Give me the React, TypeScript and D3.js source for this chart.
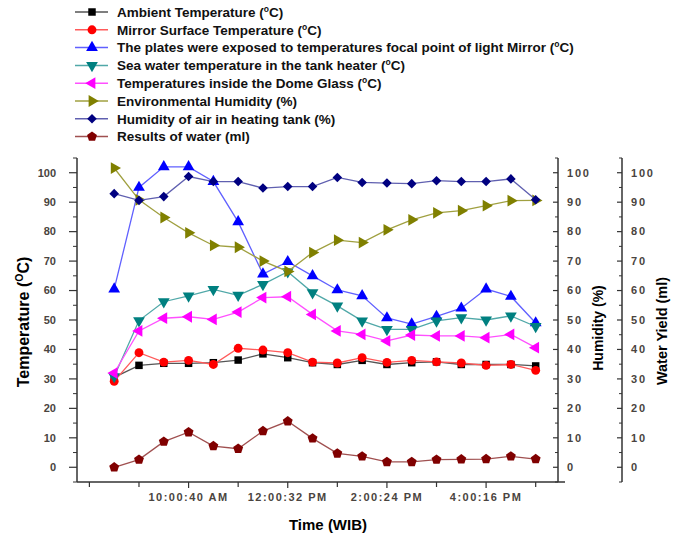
import React from 'react';
import * as d3 from 'd3';

// sample index 0..17 (one reading every ~30 min)
const sampleIdx = d3.range(18);
const majorTickAt = [3, 7, 11, 15];
const majorTickLabels = ['10:00:40 AM', '12:00:32 PM', '2:00:24 PM', '4:00:16 PM'];
const minorTickAt = [-1, 1, 5, 9, 13, 17];

const ambient = [30.5, 34.6, 35.3, 35.3, 35.5, 36.4, 38.5, 37.2, 35.5, 34.9, 36.3, 34.9, 35.5, 35.8, 34.9, 34.9, 34.9, 34.4];
const mirror = [29.2, 38.9, 35.7, 36.3, 34.9, 40.4, 39.8, 38.9, 35.7, 35.4, 37.2, 35.6, 36.3, 35.8, 35.4, 34.6, 34.9, 32.9];
const plates = [60.5, 95, 102, 102, 97, 83.3, 65.6, 69.8, 65, 60.2, 58.2, 50.7, 48.6, 51.2, 54, 60.5, 58, 49];
const seaWater = [30.8, 49.8, 56.2, 58.2, 60.4, 58.4, 62.1, 66.4, 59.3, 54.8, 49.7, 46.8, 46.8, 49.7, 50.8, 50, 51.4, 47.8];
const dome = [32, 46.3, 50.6, 51.1, 50.2, 52.7, 57.6, 57.9, 51.9, 46.3, 45.1, 42.9, 44.9, 44.6, 44.6, 44, 45.1, 40.6];
const envHumidity = [101.6, 90.8, 84.8, 79.6, 75.3, 74.7, 70, 66.5, 72.9, 77.1, 76.3, 80.6, 84, 86.4, 87.1, 88.8, 90.5, 90.6];
const tankHumidity = [92.9, 90.6, 91.9, 98.7, 97, 97, 94.8, 95.3, 95.3, 98.4, 96.7, 96.5, 96.3, 97.3, 97, 97, 97.9, 90.8];
const waterYield = [0, 2.6, 8.7, 11.9, 7.2, 6.3, 12.3, 15.6, 9.8, 4.7, 3.7, 1.8, 1.8, 2.6, 2.7, 2.8, 3.7, 2.8];

const yTicks = d3.range(0, 101, 10);
const yMinor = d3.range(-5, 106, 5).filter((v) => v % 10 !== 0);

type Shape = 'square' | 'circle' | 'up' | 'down' | 'left' | 'right' | 'diamond' | 'pentagon';

const series: { name: string; unit: string; values: number[]; color: string; line: string; shape: Shape; axis: 't' | 'h' | 'w' }[] = [
  { name: 'Ambient Temperature (', unit: 'C)', values: ambient, color: '#000000', line: '#555555', shape: 'square', axis: 't' },
  { name: 'Mirror Surface Temperature (', unit: 'C)', values: mirror, color: '#ff0000', line: '#ff5a5a', shape: 'circle', axis: 't' },
  { name: 'The plates were exposed to temperatures focal point of light Mirror (', unit: 'C)', values: plates, color: '#0000ff', line: '#6060ff', shape: 'up', axis: 't' },
  { name: 'Sea water temperature in the tank heater (', unit: 'C)', values: seaWater, color: '#008080', line: '#50a8a8', shape: 'down', axis: 't' },
  { name: 'Temperatures inside the Dome Glass (', unit: 'C)', values: dome, color: '#ff00ff', line: '#ff50ff', shape: 'left', axis: 't' },
  { name: 'Environmental Humidity (%)', unit: '', values: envHumidity, color: '#808000', line: '#a0a040', shape: 'right', axis: 'h' },
  { name: 'Humidity of air in heating tank (%)', unit: '', values: tankHumidity, color: '#000080', line: '#6060b0', shape: 'diamond', axis: 'h' },
  { name: 'Results of water (ml)', unit: '', values: waterYield, color: '#800000', line: '#a05050', shape: 'pentagon', axis: 'w' },
];

const FONT = '"Liberation Sans", Arial, sans-serif';

const markerPath = (shape: Shape) => {
  const tri = d3.symbol(d3.symbolTriangle, 60)() as string;
  switch (shape) {
    case 'square':
      return { d: d3.symbol(d3.symbolSquare, 56)() as string, rot: 0 };
    case 'circle':
      return { d: d3.symbol(d3.symbolCircle, 62)() as string, rot: 0 };
    case 'up':
      return { d: tri, rot: 0 };
    case 'down':
      return { d: tri, rot: 180 };
    case 'left':
      return { d: tri, rot: -90 };
    case 'right':
      return { d: tri, rot: 90 };
    case 'diamond':
      return { d: d3.symbol(d3.symbolSquare, 46)() as string, rot: 45 };
    default: {
      const r = 5.2;
      const pts = d3.range(5).map((k) => {
        const a = ((-90 + k * 72) * Math.PI) / 180;
        return [r * Math.cos(a), r * Math.sin(a)] as [number, number];
      });
      return { d: d3.line()(pts) + 'Z', rot: 0 };
    }
  }
};

const App = () => {
  const width = 683;
  const height = 535;
  const left = 77;
  const right = 558;
  const right2 = 622;
  const top = 158;
  const bottom = 482;

  const x = d3.scaleLinear().domain([-1.5, 17.9]).range([left, right]);
  const yT = d3.scaleLinear().domain([-5, 105]).range([bottom, top]);
  const yH = d3.scaleLinear().domain([-5, 105]).range([bottom, top]);
  const yW = d3.scaleLinear().domain([-5, 105]).range([bottom, top]);
  const scaleFor = (a: 't' | 'h' | 'w') => (a === 't' ? yT : a === 'h' ? yH : yW);

  const legendY = (i: number) => 12 + i * 17.8;

  const rightAxis = (ax: number, scale: d3.ScaleLinear<number, number>) => (
    <g>
      <line x1={ax} x2={ax} y1={top} y2={bottom} stroke="#333" strokeWidth={1.5} />
      {yTicks.map((t) => (
        <g key={t}>
          <line x1={ax - 5} x2={ax} y1={scale(t)} y2={scale(t)} stroke="#333" strokeWidth={1.2} />
          <text x={ax + 9} y={scale(t)} dy="0.35em" fontSize={11} fontWeight="bold" letterSpacing={1.8} fill="#4a4440">
            {t}
          </text>
        </g>
      ))}
      {yMinor.map((t) => (
        <line key={t} x1={ax - 3} x2={ax} y1={scale(t)} y2={scale(t)} stroke="#333" strokeWidth={1} />
      ))}
    </g>
  );

  return (
    <svg width={width} height={height} style={{ position: 'absolute', left: 0, top: 0, background: '#fff' }} fontFamily={FONT}>
      <rect width={width} height={height} fill="#fff" />

      {/* legend */}
      {series.map((s, i) => {
        const m = markerPath(s.shape);
        const ly = legendY(i);
        return (
          <g key={s.name}>
            <line x1={75} x2={108} y1={ly} y2={ly} stroke={s.line} strokeWidth={1.5} />
            <path d={m.d} transform={`translate(92,${ly}) rotate(${m.rot})`} fill={s.color} />
            <text x={117} y={ly} dy="0.36em" fontSize={13.5} fontWeight="bold" fill="#111">
              {s.name}
              {s.unit && (
                <>
                  <tspan fontSize={8.5} dy={-5}>o</tspan>
                  <tspan dy={5}>{s.unit}</tspan>
                </>
              )}
            </text>
          </g>
        );
      })}

      {/* left axis */}
      <line x1={left} x2={left} y1={top} y2={bottom} stroke="#333" strokeWidth={1.5} />
      {yTicks.map((t) => (
        <g key={t}>
          <line x1={left - 8} x2={left} y1={yT(t)} y2={yT(t)} stroke="#333" strokeWidth={1.2} />
          <text x={56} y={yT(t)} dy="0.35em" textAnchor="end" fontSize={11} fontWeight="bold" fill="#4a4440">
            {t}
          </text>
        </g>
      ))}
      {yMinor.map((t) => (
        <line key={t} x1={left - 4} x2={left} y1={yT(t)} y2={yT(t)} stroke="#333" strokeWidth={1} />
      ))}
      <text transform={`translate(23,322) rotate(-90)`} textAnchor="middle" dy="0.35em" fontSize={16} fontWeight="bold">
        Temperature (<tspan fontSize={10.5} dy={-6}>O</tspan>
        <tspan dy={6}>C)</tspan>
      </text>

      {/* right axes */}
      {rightAxis(right, yH)}
      {rightAxis(right2, yW)}
      <text transform={`translate(598,328) rotate(-90)`} textAnchor="middle" dy="0.35em" fontSize={14} fontWeight="bold">
        Humidity (%)
      </text>
      <text transform={`translate(662,331) rotate(-90)`} textAnchor="middle" dy="0.35em" fontSize={14.5} fontWeight="bold">
        Water Yield (ml)
      </text>

      {/* bottom axis */}
      <line x1={left} x2={565} y1={bottom} y2={bottom} stroke="#333" strokeWidth={1.5} />
      {minorTickAt.map((t) => (
        <line key={t} x1={x(t)} x2={x(t)} y1={bottom} y2={bottom + 5} stroke="#333" strokeWidth={1.2} />
      ))}
      {majorTickAt.map((t, i) => (
        <g key={t}>
          <line x1={x(t)} x2={x(t)} y1={bottom} y2={bottom + 6} stroke="#333" strokeWidth={1.2} />
          <text x={x(t)} y={497} dy="0.35em" textAnchor="middle" fontSize={11} fontWeight="bold" letterSpacing={1.5} fill="#4a4440">
            {majorTickLabels[i]}
          </text>
        </g>
      ))}
      <text x={328} y={525} dy="0.35em" textAnchor="middle" fontSize={15} fontWeight="bold">
        Time (WIB)
      </text>

      {/* series */}
      {series.map((s) => {
        const sc = scaleFor(s.axis);
        const line = d3
          .line<number>()
          .x((_, i) => x(sampleIdx[i]))
          .y((v) => sc(v));
        const m = markerPath(s.shape);
        return (
          <g key={s.name}>
            <path d={line(s.values) as string} fill="none" stroke={s.line} strokeWidth={1.3} />
            {s.values.map((v, i) => (
              <path key={i} d={m.d} transform={`translate(${x(sampleIdx[i])},${sc(v)}) rotate(${m.rot})`} fill={s.color} />
            ))}
          </g>
        );
      })}
    </svg>
  );
};

export default App;
